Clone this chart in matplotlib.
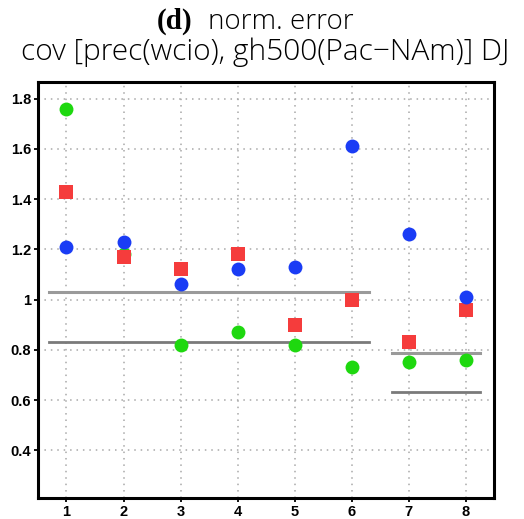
import matplotlib
matplotlib.use("Agg")
import matplotlib.pyplot as plt
from matplotlib.ticker import FixedLocator

# Model / experiment index on the x axis
members = [1, 2, 3, 4, 5, 6, 7, 8]

# Normalised error of the covariance, three estimates per member
err_blue = [1.21, 1.23, 1.06, 1.12, 1.13, 1.61, 1.26, 1.01]
err_red = [1.43, 1.17, 1.12, 1.18, 0.90, 1.00, 0.83, 0.96]
err_green = [1.76, 1.18, 0.82, 0.87, 0.82, 0.73, 0.75, 0.76]

# Reference levels for the two member groups
group_span = [(0.7, 6.3), (6.7, 8.25)]
group_upper = [1.03, 0.787]
group_lower = [0.83, 0.632]

y_ticks = [0.4, 0.6, 0.8, 1.0, 1.2, 1.4, 1.6, 1.8]
y_tick_labels = ["0.4", "0.6", "0.8", "1", "1.2", "1.4", "1.6", "1.8"]

fig = plt.figure(figsize=(5.24, 5.19), dpi=100)
ax = fig.add_axes([0.0725, 0.0405, 0.8705, 0.8015])

ax.set_xlim(0.5, 8.5)
ax.set_ylim(0.21, 1.866)

ax.xaxis.set_major_locator(FixedLocator(members))
ax.set_xticklabels([str(m) for m in members])
ax.yaxis.set_major_locator(FixedLocator(y_ticks))
ax.set_yticklabels(y_tick_labels)

ax.grid(True, color="#a8a8a8", linestyle=(0, (1, 3.2)), linewidth=1.1)
ax.set_axisbelow(True)

for (x0, x1), yu, yl in zip(group_span, group_upper, group_lower):
    ax.plot([x0, x1], [yu, yu], color="#9a9a9a", linewidth=2.2, zorder=2)
    ax.plot([x0, x1], [yl, yl], color="#7a7a7a", linewidth=2.0, zorder=2)

ax.plot(members, err_green, linestyle="none", marker="o", markersize=10,
        color="#1ed80f", markeredgewidth=0, zorder=3)
ax.plot(members, err_red, linestyle="none", marker="s", markersize=10,
        color="#f53c3c", markeredgewidth=0, zorder=4)
ax.plot(members, err_blue, linestyle="none", marker="o", markersize=10,
        color="#1a3cf5", markeredgewidth=0, zorder=5)

for sp in ax.spines.values():
    sp.set_linewidth(2.2)
    sp.set_color("black")

ax.tick_params(axis="both", direction="out", length=3, width=1.3,
               labelsize=10.5, pad=2)
for lab in ax.get_xticklabels() + ax.get_yticklabels():
    lab.set_fontfamily("Liberation Sans")
    lab.set_fontweight("bold")

fig.text(192 / 524, 1 - 29 / 519, "(d)", ha="right", va="baseline",
         fontfamily="Liberation Serif", fontweight="bold", fontsize=21)
fig.text(208 / 524, 1 - 29 / 519, "norm. error", ha="left", va="baseline",
         fontfamily="Open Sans", fontweight="light", fontsize=20)
fig.text(265 / 524, 1 - 60 / 519, "cov [prec(wcio), gh500(Pac\u2212NAm)] DJ",
         ha="center", va="baseline", fontfamily="Open Sans",
         fontweight="light", fontsize=21.5)

fig.savefig("out.png", dpi=100)
